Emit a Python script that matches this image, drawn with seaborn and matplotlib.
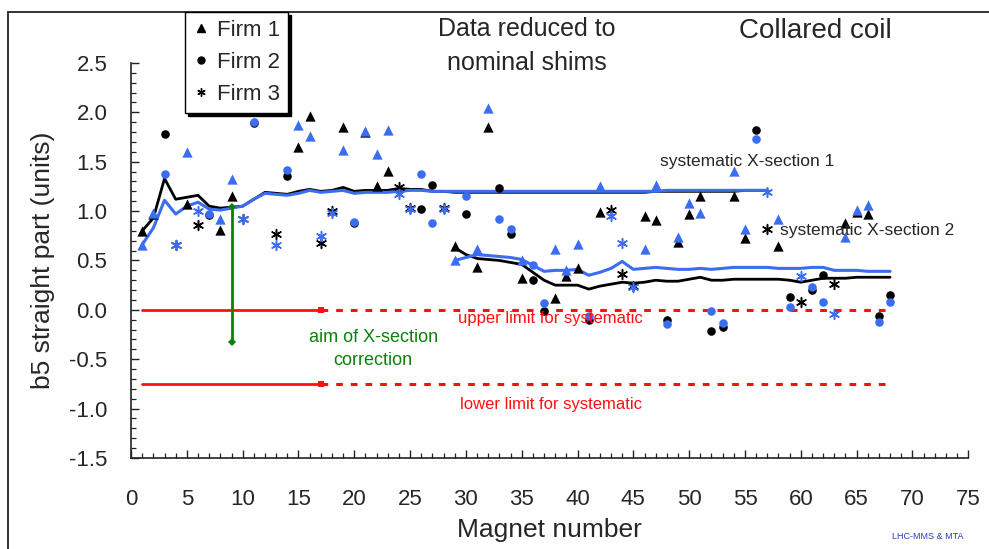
import matplotlib
matplotlib.use("Agg")
import matplotlib.pyplot as plt
from matplotlib.lines import Line2D
from matplotlib.patches import Rectangle
from matplotlib.ticker import MultipleLocator
import pandas as pd
import seaborn as sns

# ---------------------------------------------------------------- data
# Firm 1 (triangles): measured (black) and reduced to nominal shims (blue)
firm1_magnets = [1, 2, 5, 8, 9, 15, 16, 19, 21, 22, 23, 29, 31, 32, 35, 38, 39, 40,
                 42, 46, 47, 49, 50, 51, 54, 55, 58, 64, 65, 66]
firm1_black = [0.80, 0.97, 1.07, 0.81, 1.15, 1.65, 1.96, 1.85, 1.80, 1.255, 1.41, 0.65,
               0.43, 1.855, 0.325, 0.115, 0.345, 0.425, 0.995, 0.95, 0.91, 0.69, 0.97,
               1.15, 1.155, 0.73, 0.65, 0.88, 0.99, 0.97]
firm1_blue = [0.66, 0.985, 1.60, 0.925, 1.33, 1.87, 1.76, 1.62, 1.81, 1.575, 1.82, 0.505,
              0.62, 2.04, 0.50, 0.62, 0.40, 0.665, 1.255, 0.615, 1.26, 0.74, 1.085,
              0.985, 1.41, 0.82, 0.925, 0.74, 1.01, 1.06]

# Firm 2 (circles)
firm2_magnets = [3, 7, 11, 14, 20, 26, 27, 30, 33, 34, 36, 37, 41, 48, 52, 53, 56, 59,
                 61, 62, 67, 68]
firm2_black = [1.78, 0.96, 1.89, 1.36, 0.88, 1.02, 1.26, 0.975, 1.23, 0.765, 0.30, -0.01,
               -0.10, -0.10, -0.21, -0.175, 1.82, 0.13, 0.20, 0.35, -0.065, 0.15]
firm2_blue = [1.38, 0.97, 1.90, 1.42, 0.89, 1.38, 0.875, 1.15, 0.925, 0.815, 0.455, 0.065,
              -0.06, -0.14, -0.01, -0.13, 1.73, 0.03, 0.235, 0.08, -0.12, 0.08]

# Firm 3 (asterisks)
firm3_magnets = [4, 6, 10, 13, 17, 18, 24, 25, 28, 43, 44, 45, 57, 60, 63]
firm3_black = [0.66, 0.86, 0.92, 0.77, 0.68, 1.00, 1.24, 1.035, 1.035, 1.01, 0.36, 0.24,
               0.82, 0.08, 0.26]
firm3_blue = [0.66, 1.00, 0.92, 0.66, 0.75, 0.98, 1.17, 1.02, 1.02, 0.95, 0.68, 0.23,
              1.19, 0.34, -0.045]

# Running systematic value, cross-section 1 (magnets 1-57)
xs1_magnets = list(range(1, 58))
xs1_black = [0.80, 0.93, 1.33, 1.12, 1.14, 1.16, 1.05, 1.03, 1.04, 1.05,
             1.12, 1.19, 1.18, 1.17, 1.20, 1.22, 1.20, 1.21, 1.24, 1.20,
             1.21, 1.21, 1.21, 1.23, 1.22, 1.22, 1.20, 1.20, 1.19, 1.19,
             1.19, 1.19, 1.19, 1.19, 1.19, 1.19, 1.19, 1.19, 1.19, 1.19,
             1.19, 1.19, 1.19, 1.19, 1.19, 1.19, 1.20, 1.20, 1.20, 1.20,
             1.20, 1.20, 1.20, 1.20, 1.21, 1.21, 1.21]
xs1_blue = [0.66, 0.83, 1.11, 0.97, 1.05, 1.09, 1.02, 1.01, 1.03, 1.05,
            1.12, 1.18, 1.17, 1.16, 1.18, 1.21, 1.19, 1.20, 1.21, 1.18,
            1.19, 1.19, 1.19, 1.20, 1.21, 1.21, 1.20, 1.20, 1.20, 1.20,
            1.20, 1.20, 1.20, 1.20, 1.20, 1.20, 1.20, 1.20, 1.20, 1.20,
            1.20, 1.20, 1.20, 1.20, 1.20, 1.20, 1.20, 1.21, 1.21, 1.21,
            1.21, 1.21, 1.21, 1.21, 1.21, 1.21, 1.21]

# Running systematic value, cross-section 2 (magnets 29-68)
xs2_magnets = list(range(29, 69))
xs2_black = [0.63, 0.56, 0.52, 0.51, 0.50, 0.48, 0.46, 0.38, 0.30, 0.25,
             0.25, 0.25, 0.21, 0.24, 0.26, 0.28, 0.27, 0.28, 0.30, 0.29,
             0.29, 0.31, 0.33, 0.30, 0.30, 0.31, 0.31, 0.31, 0.31, 0.31,
             0.30, 0.28, 0.30, 0.32, 0.32, 0.32, 0.33, 0.33, 0.33, 0.33]
xs2_blue = [0.50, 0.53, 0.56, 0.55, 0.54, 0.53, 0.51, 0.45, 0.39, 0.40,
            0.40, 0.41, 0.35, 0.38, 0.42, 0.49, 0.41, 0.42, 0.43, 0.42,
            0.41, 0.41, 0.42, 0.41, 0.42, 0.43, 0.43, 0.43, 0.43, 0.42,
            0.42, 0.42, 0.43, 0.43, 0.40, 0.40, 0.40, 0.39, 0.39, 0.39]

# Limits for the systematic b5 and the correction target
limit_magnets = [1, 17, 68]
upper_limit = 0.0
lower_limit = -0.75
aim_magnet = 9
aim_range = [1.04, -0.33]

BLACK = "#000000"
BLUE = "#3A6DF0"
RED = "#FF1010"
GREEN = "#0A820A"

# ---------------------------------------------------------------- style
sns.set_style("ticks")
plt.rcParams["font.family"] = ["Liberation Sans", "DejaVu Sans"]

fig = plt.figure(figsize=(9.89, 5.49), dpi=100)
ax = fig.add_axes([0.1325, 0.1658, 0.8465, 0.7195])

# ---------------------------------------------------------------- lines
for xs, ys, col, lw in [(xs1_magnets, xs1_black, BLACK, 2.0),
                        (xs1_magnets, xs1_blue, BLUE, 2.2),
                        (xs2_magnets, xs2_black, BLACK, 2.0),
                        (xs2_magnets, xs2_blue, BLUE, 2.2)]:
    sns.lineplot(x=xs, y=ys, color=col, lw=lw, estimator=None, sort=False,
                 ax=ax, zorder=2)

# limit lines: solid over the first magnets, dashed afterwards
for lim in (upper_limit, lower_limit):
    sns.lineplot(x=limit_magnets[:2], y=[lim, lim], color=RED, lw=2,
                 marker="s", markersize=4, markeredgewidth=0, markevery=[1],
                 ax=ax, zorder=2)
    sns.lineplot(x=limit_magnets[1:], y=[lim, lim], color=RED, lw=2.2,
                 ax=ax, zorder=2, dashes=(2.2, 2.6))

# aim of cross-section correction
sns.lineplot(x=[aim_magnet, aim_magnet], y=aim_range, color=GREEN, lw=2,
             marker="D", markersize=4.5, markeredgewidth=0, sort=False,
             estimator=None, ax=ax, zorder=2)

# ---------------------------------------------------------------- markers
for col, sets in [(BLACK, (firm1_black, firm2_black, firm3_black)),
                  (BLUE, (firm1_blue, firm2_blue, firm3_blue))]:
    sns.scatterplot(x=firm1_magnets, y=sets[0], marker="^", color=col, s=55,
                    linewidth=0, ax=ax, zorder=3)
    sns.scatterplot(x=firm2_magnets, y=sets[1], marker="o", color=col, s=38,
                    linewidth=0, ax=ax, zorder=3)
    sns.scatterplot(x=firm3_magnets, y=sets[2], marker=(6, 2, 0), color=col,
                    s=50, linewidth=1.1, ax=ax, zorder=3)

# ---------------------------------------------------------------- axes
ax.set_xlim(0, 75)
ax.set_ylim(-1.5, 2.5)
ax.xaxis.set_major_locator(MultipleLocator(5))
ax.xaxis.set_minor_locator(MultipleLocator(1))
ax.yaxis.set_major_locator(MultipleLocator(0.5))
ax.yaxis.set_minor_locator(MultipleLocator(0.1))
ax.yaxis.set_major_formatter(matplotlib.ticker.FormatStrFormatter("%.1f"))
ax.tick_params(axis="both", which="major", direction="in", length=6, width=1,
               labelsize=16, color="#222222")
ax.tick_params(axis="both", which="minor", direction="in", length=3.5, width=0.9,
               color="#222222")
ax.tick_params(axis="x", which="major", pad=22)
ax.tick_params(axis="y", which="major", pad=17)
sns.despine(ax=ax)
for sp in ("left", "bottom"):
    ax.spines[sp].set_linewidth(1.2)
    ax.spines[sp].set_color("#222222")

ax.set_xlabel("Magnet number", fontsize=19, labelpad=6)
ax.set_ylabel("b5 straight part (units)", fontsize=19, labelpad=10)

# ---------------------------------------------------------------- annotations
ax.text(47.4, 1.50, "systematic X-section 1", fontsize=12.5, va="center", ha="left")
ax.text(58.1, 0.80, "systematic X-section 2", fontsize=12.5, va="center", ha="left")
ax.text(37.6, -0.09, "upper limit for systematic", fontsize=12, color=RED,
        va="center", ha="center")
ax.text(37.6, -0.96, "lower limit for systematic", fontsize=12, color=RED,
        va="center", ha="center")
ax.text(21.7, -0.28, "aim of X-section", fontsize=13, color=GREEN,
        va="center", ha="center")
ax.text(21.7, -0.51, "correction", fontsize=13, color=GREEN,
        va="center", ha="center")

fig.text(0.533, 0.947, "Data reduced to", fontsize=18, ha="center", va="center")
fig.text(0.533, 0.886, "nominal shims", fontsize=18, ha="center", va="center")
fig.text(0.824, 0.943, "Collared coil", fontsize=20, ha="center", va="center")
fig.text(0.938, 0.022, "LHC-MMS & MTA", fontsize=6.5, color="#2F3FBF",
         ha="center", va="center")

# outer frame of the figure
fig.patches.append(Rectangle((0.0081, -0.2), 1.2, 0.979 + 0.2, fill=False,
                             edgecolor="#333333", lw=1.4,
                             transform=fig.transFigure, zorder=0))

# ---------------------------------------------------------------- legend
handles = [Line2D([], [], ls="none", marker="^", color=BLACK, markersize=6),
           Line2D([], [], ls="none", marker="o", color=BLACK, markersize=5),
           Line2D([], [], ls="none", marker=(6, 2, 0), color=BLACK, markersize=6,
                  markeredgewidth=1)]
leg = fig.legend(handles, ["Firm 1", "Firm 2", "Firm 3"], loc="upper left",
                 bbox_to_anchor=(185 / 989, 1 - 12 / 549),
                 bbox_transform=fig.transFigure, fontsize=16, frameon=True,
                 fancybox=False, framealpha=1, edgecolor="black",
                 shadow={"facecolor": "black", "edgecolor": "black", "alpha": 1},
                 handlelength=0.7, handletextpad=0.4, borderpad=0.35,
                 labelspacing=0.5, borderaxespad=0)
leg.get_frame().set_linewidth(1.0)

fig.savefig("out.png", dpi=100)
